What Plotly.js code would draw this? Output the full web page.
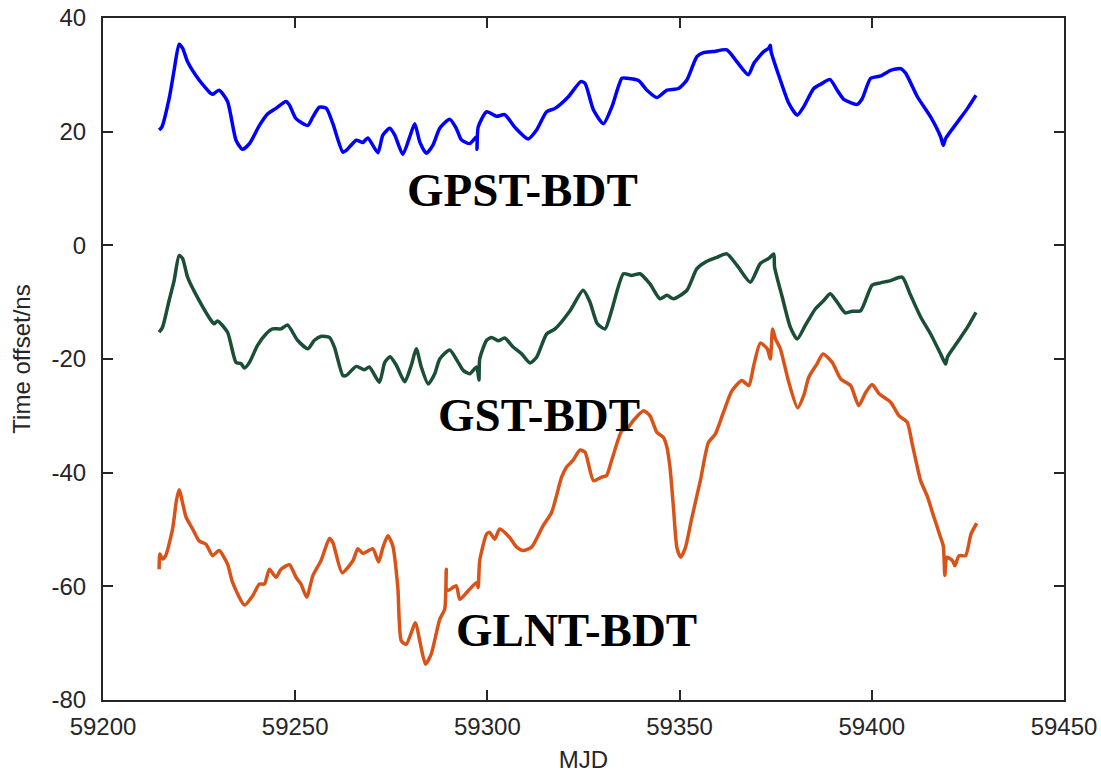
<!DOCTYPE html>
<html>
<head>
<meta charset="utf-8">
<script src="https://cdn.plot.ly/plotly-3.0.1.min.js"></script>
<style>html,body{margin:0;padding:0;background:#fff;}#chart{width:1101px;height:773px;}</style>
</head>
<body>
<div id="chart"></div>
<script>
// GPST-BDT (MJD, ns)
const gpstBdt = [[59214.6,20.3],[59215.3,20.8],[59217.2,25.8],[59218.5,30.8],[59219.8,35.4],[59220.7,34.7],[59222,32.3],[59225,29.1],[59228.1,26.7],[59228.6,26.6],[59230.2,27.3],[59232.4,25.3],[59234.6,18.5],[59236.3,16.9],[59238.1,17.9],[59240.7,21.1],[59242.8,23.1],[59245,24.1],[59247.6,25.3],[59248.5,24.7],[59250.2,22.3],[59253.3,21.1],[59254.6,22.6],[59256.3,24.3],[59258.1,24.1],[59259.8,21.4],[59262.4,16.4],[59263.3,16.7],[59265.9,18.5],[59267.6,18.1],[59268.9,18.9],[59271.5,16.3],[59272.8,19.4],[59274.6,20.6],[59275.9,19.4],[59278,16.0],[59279.8,19.1],[59281.1,21.4],[59282.4,18.2],[59284.1,16.2],[59285.8,17.6],[59287.6,20.6],[59290.2,22.2],[59291.9,20.6],[59293.2,18.6],[59295.4,17.9],[59297.2,19.1],[59297.3,16.9],[59297.6,20.8],[59299.8,23.5],[59302.4,22.7],[59304.5,23.0],[59307.1,20.8],[59310.6,18.7],[59312.8,20.3],[59315.4,23.5],[59317.6,24.1],[59321,26.1],[59324.3,28.8],[59325.4,28.5],[59327.6,23.8],[59330.2,21.4],[59332.4,24.4],[59335,29.4],[59336.3,29.4],[59339.3,29.0],[59341.5,27.3],[59344.1,26.0],[59346.7,27.3],[59349.7,27.6],[59351.9,29.1],[59354.5,33.2],[59356.2,33.9],[59358.8,34.1],[59362.3,34.4],[59364.9,32.3],[59367.9,30.0],[59369.3,32.0],[59371.9,34.1],[59373.2,34.7],[59373.6,35.2],[59373.8,34.1],[59376.2,29.1],[59378.4,25.0],[59380.6,22.9],[59382.3,24.4],[59384.9,27.6],[59387.1,28.5],[59389.1,29.2],[59391,27.3],[59392.7,25.7],[59396.2,24.8],[59397.5,25.8],[59399.7,29.4],[59402.3,29.8],[59404.9,30.8],[59407.5,31.1],[59408.8,30.3],[59411.9,26.1],[59415.3,22.6],[59417.9,19.1],[59418.6,17.6],[59419.2,18.8],[59422.3,21.7],[59424.9,24.1],[59427.1,26.4]];

// GST-BDT (MJD, ns)
const gstBdt = [[59214.6,-15.3],[59215.5,-14.4],[59217.2,-9.7],[59218.5,-6.2],[59219.8,-1.8],[59220.7,-2.3],[59222,-5.6],[59225,-9.7],[59228.1,-13.2],[59228.9,-13.8],[59229.8,-13.3],[59232.4,-15.3],[59234.6,-20.6],[59235.9,-20.8],[59236.8,-21.6],[59238.1,-20.6],[59240.2,-17.6],[59242.4,-15.6],[59244.1,-14.7],[59246.3,-14.7],[59248,-14.0],[59250.6,-16.7],[59253.3,-18.2],[59255,-16.7],[59256.8,-16.0],[59258.9,-16.2],[59260.2,-17.9],[59262.4,-22.9],[59263.3,-22.9],[59265.9,-21.3],[59268,-21.9],[59269.3,-21.4],[59271.9,-24.1],[59273.3,-20.6],[59274.7,-19.6],[59276.3,-21.1],[59278.5,-24.0],[59280.2,-21.1],[59281.5,-18.2],[59282.8,-21.4],[59284.6,-24.4],[59286.3,-22.6],[59287.6,-20.0],[59290.2,-18.4],[59292.4,-20.6],[59293.7,-22.0],[59295.4,-22.6],[59297.2,-21.4],[59297.8,-23.7],[59298,-20.0],[59299.8,-16.7],[59301.1,-16.2],[59302.8,-16.8],[59304.5,-16.3],[59306.7,-17.9],[59308.9,-19.1],[59311.1,-20.7],[59312.8,-19.7],[59315.4,-15.6],[59317.6,-14.7],[59321.5,-11.5],[59324.9,-7.9],[59326.7,-10.0],[59328.6,-13.8],[59330.6,-14.7],[59332.3,-11.5],[59335.4,-5.0],[59337.5,-5.3],[59339.7,-5.0],[59342.3,-6.8],[59344.9,-9.4],[59346.7,-8.8],[59348.4,-9.4],[59351.9,-7.9],[59354.5,-4.1],[59357.1,-2.8],[59359.7,-2.1],[59362.3,-1.5],[59364.9,-3.5],[59368.4,-6.5],[59371,-3.2],[59373.2,-2.3],[59374.5,-1.5],[59374.7,-3.8],[59376.7,-9.1],[59378.8,-14.4],[59380.6,-16.5],[59382.7,-14.1],[59385.3,-11.2],[59387.5,-9.7],[59389.2,-8.5],[59391,-10.0],[59393.1,-11.9],[59394.9,-11.6],[59397.1,-11.5],[59400.1,-7.0],[59402.3,-6.6],[59404.9,-6.2],[59407.9,-5.6],[59410.1,-8.8],[59412.7,-12.6],[59415.3,-15.6],[59417.9,-19.1],[59419.2,-20.9],[59419.7,-19.6],[59422.3,-17.0],[59424.9,-14.4],[59427.1,-11.8]];

// GLNT-BDT (MJD, ns)
const glntBdt = [[59214.6,-57.0],[59214.8,-54.3],[59215.5,-55.2],[59216.3,-54.6],[59218.1,-49.9],[59219.1,-44.9],[59219.8,-43.0],[59221.6,-47.8],[59223.3,-49.9],[59225,-52.0],[59226.8,-52.6],[59228.5,-54.6],[59230.2,-53.7],[59232.4,-56.1],[59233.7,-59.3],[59236.8,-63.3],[59238.9,-61.7],[59240.7,-59.6],[59242,-59.6],[59243.3,-57.0],[59245,-58.4],[59246.3,-57.0],[59248.5,-56.2],[59250.2,-58.4],[59251.5,-59.6],[59253,-61.9],[59254.6,-58.1],[59256.7,-55.5],[59258.9,-51.6],[59259.8,-52.3],[59262.2,-57.6],[59265,-55.5],[59266.3,-53.4],[59267.6,-54.2],[59270.2,-53.4],[59271.7,-55.7],[59272.8,-53.2],[59274.1,-51.1],[59275.4,-52.9],[59276.7,-60.2],[59277.6,-69.6],[59278.9,-70.2],[59281.3,-66.4],[59282.4,-69.6],[59283.9,-73.7],[59285.4,-71.9],[59287.6,-65.8],[59288.9,-64.0],[59289.3,-57.0],[59289.5,-60.8],[59291.9,-59.9],[59292.8,-62.3],[59294.6,-61.1],[59297.2,-59.3],[59297.6,-60.2],[59298,-55.5],[59299.8,-50.8],[59300.6,-50.5],[59301.9,-51.7],[59303.2,-49.9],[59305.8,-51.4],[59307.6,-53.1],[59309.3,-53.7],[59311.5,-53.1],[59314.5,-49.3],[59316.7,-47.0],[59319.3,-40.8],[59320.6,-39.0],[59322.3,-37.8],[59324.1,-36.0],[59325.4,-36.4],[59327.6,-41.4],[59329.7,-40.8],[59331,-40.5],[59332.3,-37.9],[59335,-32.6],[59336.3,-32.3],[59338,-30.8],[59340.6,-29.1],[59342.3,-30.0],[59344.1,-32.9],[59345.8,-33.8],[59346.7,-35.5],[59347.5,-39.1],[59348.4,-46.1],[59349.3,-53.2],[59350.3,-54.9],[59351.5,-53.2],[59353.2,-47.9],[59355.4,-41.4],[59357.5,-34.7],[59359.3,-33.2],[59361.4,-29.4],[59363.6,-25.6],[59366.2,-23.8],[59368,-24.7],[59369.3,-21.1],[59371,-17.2],[59372.8,-18.2],[59373.6,-20.0],[59374.2,-14.7],[59374.9,-16.4],[59376.2,-18.2],[59378.4,-24.1],[59380.7,-28.6],[59382.3,-26.4],[59383.6,-23.2],[59385.8,-20.8],[59387.3,-19.1],[59389.7,-20.6],[59391.9,-23.5],[59394.5,-24.7],[59396.6,-28.2],[59398.4,-25.9],[59400.1,-24.5],[59401.9,-26.1],[59404.9,-27.6],[59407.1,-30.0],[59409.2,-31.1],[59410.5,-34.9],[59412.7,-41.4],[59414.4,-44.1],[59416.2,-47.9],[59417.9,-51.4],[59418.6,-52.9],[59419,-58.1],[59419.5,-54.9],[59421,-55.5],[59421.6,-56.4],[59422.7,-54.6],[59424.4,-54.6],[59425.8,-50.8],[59427.3,-48.9]];

const seriesNames = ['GPST-BDT', 'GST-BDT', 'GLNT-BDT'];
const seriesData = [gpstBdt, gstBdt, glntBdt];
const seriesColors = ['#0000FF', '#1B4E36', '#D95319'];
// label anchor positions (MJD, ns)
const labelX = [59309, 59313.4, 59323.3];
const labelY = [9.7, -29.8, -67.7];

const xTicks = [59200, 59250, 59300, 59350, 59400, 59450];
const yTicks = [-80, -60, -40, -20, 0, 20, 40];

const traces = seriesData.map((d, i) => ({
  type: 'scatter', mode: 'lines', name: seriesNames[i],
  x: d.map(p => p[0]), y: d.map(p => p[1]),
  line: {color: seriesColors[i], width: 3.5, shape: 'spline', smoothing: 0.6},
  hoverinfo: 'x+y'
}));

const annotations = seriesNames.map((n, i) => ({
  x: labelX[i], y: labelY[i], xref: 'x', yref: 'y', text: n, showarrow: false,
  xanchor: 'center', yanchor: 'middle',
  font: {family: '"Liberation Serif", "Times New Roman", serif', size: 47, color: '#000', weight: 'bold'}
}));

const tickFont = {family: '"Liberation Sans", Arial, Helvetica, sans-serif', size: 24, color: '#262626'};
const titleFont = {family: '"Liberation Sans", Arial, Helvetica, sans-serif', size: 24, color: '#262626'};

const layout = {
  width: 1101, height: 773,
  margin: {l: 103, r: 37, t: 18, b: 73, pad: 0},
  paper_bgcolor: '#fff', plot_bgcolor: '#fff',
  showlegend: false,
  font: tickFont,
  xaxis: {
    range: [59200, 59450], tickvals: xTicks, ticktext: xTicks.map(String),
    ticks: 'inside', ticklen: 10, tickwidth: 1.5, tickcolor: '#262626',
    showline: true, linecolor: '#262626', linewidth: 2, mirror: 'ticks',
    showgrid: false, zeroline: false, tickfont: tickFont, ticklabelstandoff: 4,
    automargin: false,
    title: {text: 'MJD', font: titleFont, standoff: 16}
  },
  yaxis: {
    range: [-80, 40], tickvals: yTicks, ticktext: yTicks.map(String),
    ticks: 'inside', ticklen: 10, tickwidth: 1.5, tickcolor: '#262626',
    showline: true, linecolor: '#262626', linewidth: 2, mirror: 'ticks',
    showgrid: false, zeroline: false, tickfont: tickFont, ticklabelstandoff: 10,
    automargin: false,
    title: {text: 'Time offset/ns', font: titleFont, standoff: 14}
  },
  annotations: annotations
};

Plotly.newPlot('chart', traces, layout, {displayModeBar: false});
</script>
</body>
</html>
